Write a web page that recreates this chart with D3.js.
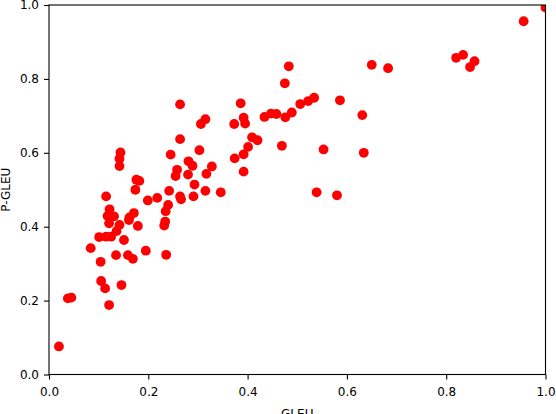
<!DOCTYPE html>
<html>
<head>
<meta charset="utf-8">
<script src="https://cdn.jsdelivr.net/npm/d3@7"></script>
<style>
  body { margin: 0; background: #fff; }
  svg { display: block; font-family: "DejaVu Sans", sans-serif; }
</style>
</head>
<body>
<div id="chart"></div>
<script>
// GLEU vs P-GLEU, one entry per system
const gleu = [
  0.264, 0.306, 0.315, 0.264, 0.144, 0.142, 0.142, 0.245, 0.303, 0.281,
  0.289, 0.328, 0.258, 0.255, 0.280, 0.317, 0.176, 0.182, 0.174, 0.293,
  0.242, 0.315, 0.346, 0.115, 0.199, 0.218, 0.264, 0.266, 0.291, 0.240,
  0.235, 0.234, 0.232, 0.179, 0.171, 0.162, 0.161, 0.122, 0.118, 0.131,
  0.121, 0.142, 0.136, 0.101, 0.115, 0.125, 0.151, 0.084, 0.135, 0.159,
  0.169, 0.195, 0.236, 0.104, 0.105, 0.113, 0.146, 0.038, 0.045, 0.121,
  0.020, 0.483, 0.475, 0.650, 0.386, 0.534, 0.522, 0.506, 0.586, 0.631,
  0.489, 0.476, 0.458, 0.447, 0.434, 0.392, 0.395, 0.373, 0.409, 0.420,
  0.401, 0.392, 0.374, 0.469, 0.553, 0.634, 0.392, 0.539, 0.580, 0.683,
  0.820, 0.834, 0.857, 0.848, 0.956, 1.000
];
const pgleu = [
  0.731, 0.678, 0.691, 0.637, 0.601, 0.584, 0.564, 0.595, 0.607, 0.577,
  0.565, 0.563, 0.554, 0.537, 0.541, 0.543, 0.527, 0.524, 0.500, 0.514,
  0.497, 0.497, 0.493, 0.482, 0.471, 0.478, 0.482, 0.474, 0.482, 0.459,
  0.442, 0.414, 0.403, 0.402, 0.437, 0.425, 0.418, 0.447, 0.429, 0.428,
  0.409, 0.405, 0.388, 0.372, 0.373, 0.373, 0.364, 0.342, 0.323, 0.323,
  0.313, 0.335, 0.324, 0.305, 0.253, 0.233, 0.242, 0.206, 0.208, 0.188,
  0.076, 0.834, 0.788, 0.838, 0.734, 0.749, 0.740, 0.732, 0.742, 0.702,
  0.709, 0.696, 0.705, 0.706, 0.697, 0.695, 0.679, 0.678, 0.642, 0.634,
  0.616, 0.596, 0.585, 0.619, 0.609, 0.600, 0.549, 0.493, 0.485, 0.829,
  0.857, 0.865, 0.848, 0.832, 0.956, 0.993
];
const xTicks = [0, 0.2, 0.4, 0.6, 0.8, 1.0];
const yTicks = [0, 0.2, 0.4, 0.6, 0.8, 1.0];

const W = 556, H = 414;
const margin = { top: 5, right: 10.5, bottom: 39.5, left: 49 };
const iw = W - margin.left - margin.right;
const ih = H - margin.top - margin.bottom;

const svg = d3.select('#chart').append('svg')
  .attr('width', W)
  .attr('height', H);

const g = svg.append('g')
  .attr('transform', `translate(${margin.left},${margin.top})`);

const x = d3.scaleLinear().domain([0, 1]).range([0, iw]);
const y = d3.scaleLinear().domain([0, 1]).range([ih, 0]);

g.append('clipPath').attr('id', 'plot-clip')
  .append('rect').attr('width', iw).attr('height', ih);

const points = gleu.map((v, i) => ({ x: v, y: pgleu[i] }));

g.append('g')
  .attr('clip-path', 'url(#plot-clip)')
  .selectAll('circle')
  .data(points)
  .join('circle')
  .attr('cx', (d) => x(d.x))
  .attr('cy', (d) => y(d.y))
  .attr('r', 4.9)
  .attr('fill', '#ff0000');

const fmt = d3.format('.1f');

const xAxis = g.append('g')
  .attr('transform', `translate(0,${ih})`)
  .call(d3.axisBottom(x).tickValues(xTicks).tickFormat(fmt).tickSize(5).tickPadding(8));

const yAxis = g.append('g')
  .call(d3.axisLeft(y).tickValues(yTicks).tickFormat(fmt).tickSize(5).tickPadding(5));

[xAxis, yAxis].forEach((a) => {
  a.select('.domain').remove();
  a.selectAll('text')
    .attr('font-size', '12px')
    .attr('font-family', '"DejaVu Sans", sans-serif')
    .attr('fill', '#000');
  a.selectAll('line').attr('stroke', '#000').attr('stroke-width', 1.1);
});

// frame around the axes
g.append('rect')
  .attr('width', iw)
  .attr('height', ih)
  .attr('fill', 'none')
  .attr('stroke', '#000')
  .attr('stroke-width', 1.1);

g.append('text')
  .attr('x', iw / 2)
  .attr('y', ih + 43)
  .attr('text-anchor', 'middle')
  .attr('font-size', '12px')
  .text('GLEU');

g.append('text')
  .attr('transform', `translate(${-39},${ih / 2}) rotate(-90)`)
  .attr('text-anchor', 'middle')
  .attr('font-size', '12px')
  .text('P-GLEU');
</script>
</body>
</html>
